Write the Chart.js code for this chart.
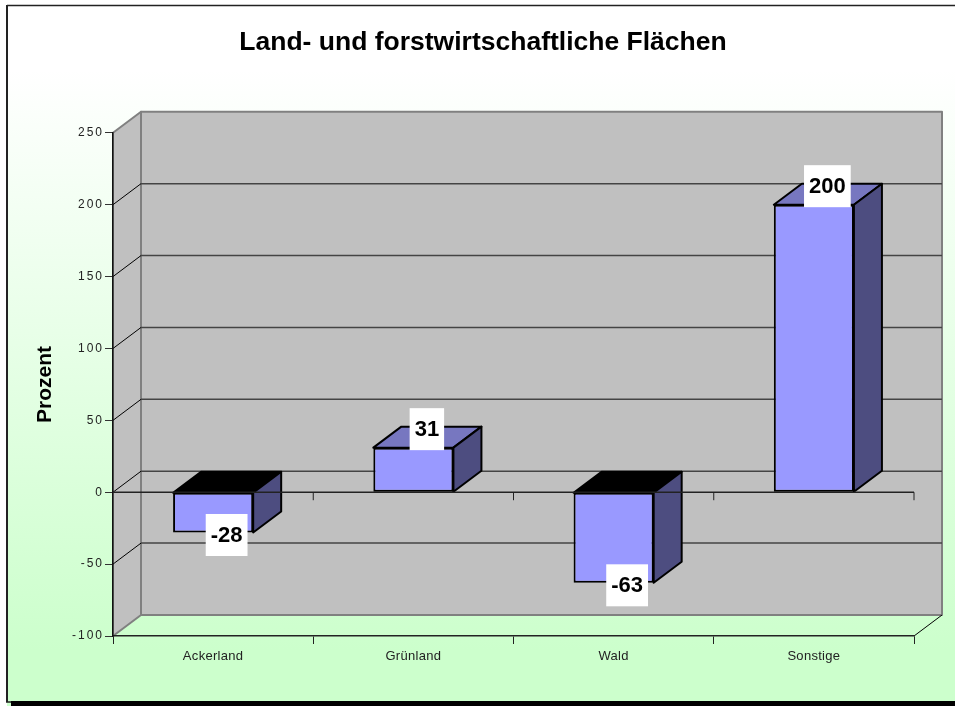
<!DOCTYPE html>
<html>
<head>
<meta charset="utf-8">
<title>Land- und forstwirtschaftliche Flächen</title>
<script src="https://cdn.jsdelivr.net/npm/chart.js@4"></script>
<style>
    html, body { margin: 0; padding: 0; background: #fff; }
    canvas { display: block; }
</style>
</head>
<body>
<canvas id="myChart" width="955" height="706"></canvas>
<script>
const chartTitle = 'Land- und forstwirtschaftliche Flächen';
const yTitle = 'Prozent';
const categories = ['Ackerland', 'Grünland', 'Wald', 'Sonstige'];
const values = [-28, 31, -63, 200];
const yMin = -100;
const yMax = 250;
const yStep = 50;

// the depth of the fake 3d box, in pixels
const depthX = 28;
const depthY = 21;
const fontName = '"Liberation Sans", Arial, sans-serif';

const poly = (ctx, pts, fill, stroke, lw) => {
    ctx.beginPath();
    pts.forEach((p, i) => i ? ctx.lineTo(p[0], p[1]) : ctx.moveTo(p[0], p[1]));
    ctx.closePath();
    if (fill) { ctx.fillStyle = fill; ctx.fill(); }
    if (stroke) { ctx.strokeStyle = stroke; ctx.lineWidth = lw; ctx.lineJoin = 'round'; ctx.stroke(); }
};

const line = (ctx, x1, y1, x2, y2, color, lw) => {
    ctx.beginPath();
    ctx.moveTo(x1, y1);
    ctx.lineTo(x2, y2);
    ctx.strokeStyle = color;
    ctx.lineWidth = lw;
    ctx.stroke();
};

const box3d = {
    id: 'box3d',
    afterLayout(chart) {
        // tick labels are spaced out in the original
        ['x', 'y'].forEach(id => {
            const scale = chart.scales[id];
            if (scale.spaced) return;
            scale.spaced = true;
            const drawLabels = scale.drawLabels;
            scale.drawLabels = function (area) {
                chart.ctx.letterSpacing = id === 'y' ? '2px' : '0.3px';
                drawLabels.call(this, area);
                chart.ctx.letterSpacing = '0px';
            };
        });
    },
    beforeDraw(chart) {
        const ctx = chart.ctx;
        const { left, right, top, bottom } = chart.chartArea;
        const y = chart.scales.y;
        const W = chart.width, H = chart.height;

        // page background and frame
        ctx.save();
        const bg = ctx.createLinearGradient(0, 70, 0, 650);
        bg.addColorStop(0, '#ffffff');
        bg.addColorStop(1, '#ccffcc');
        ctx.fillStyle = bg;
        ctx.fillRect(7, 6, W - 7, H - 6);
        line(ctx, 7, 5.5, W, 5.5, '#222', 1.5);
        line(ctx, 7, 5, 7, 702, '#222', 2);
        line(ctx, 6, 702, 12, 702, '#222', 1.5);
        ctx.fillStyle = '#000';
        ctx.fillRect(11, 701, W - 11, H - 701);

        // side wall and back wall
        poly(ctx, [[left, top], [left + depthX, top - depthY], [left + depthX, bottom - depthY], [left, bottom]], '#c0c0c0', '#808080', 2);
        poly(ctx, [[left + depthX, top - depthY], [right + depthX, top - depthY], [right + depthX, bottom - depthY], [left + depthX, bottom - depthY]], '#c0c0c0', '#808080', 2);

        y.ticks.forEach(t => {
            const py = y.getPixelForValue(t.value);
            if (t.value !== yMin && t.value !== yMax) {
                line(ctx, left, py, left + depthX, py - depthY, '#000', 1);
                line(ctx, left + depthX, py - depthY, right + depthX, py - depthY, '#444', 1.5);
            }
        });
        line(ctx, right, bottom, right + depthX, bottom - depthY, '#000', 1);
        ctx.restore();
    },
    beforeDatasetsDraw(chart) {
        const ctx = chart.ctx;
        const { left, right } = chart.chartArea;
        const x = chart.scales.x;
        const zero = chart.scales.y.getPixelForValue(0);
        ctx.save();

        chart.getDatasetMeta(0).data.forEach((bar, i) => {
            const l = bar.x - bar.width / 2, r = bar.x + bar.width / 2;
            const t = Math.min(bar.y, bar.base), b = Math.max(bar.y, bar.base);
            poly(ctx, [[l, t], [l + depthX, t - depthY], [r + depthX, t - depthY], [r, t]], values[i] < 0 ? '#000000' : '#7777c0', '#000', 2);
            poly(ctx, [[r, t], [r + depthX, t - depthY], [r + depthX, b - depthY], [r, b]], '#4d4d80', '#000', 2);
        });

        // zero line with its ticks
        line(ctx, left, zero, right, zero, '#222', 1.5);
        categories.forEach((c, i) => {
            const px = x.getPixelForValue(i + 0.5);
            line(ctx, px, zero, px, zero + 8, '#222', 1);
        });
        ctx.restore();
    },
    afterDatasetsDraw(chart) {
        const ctx = chart.ctx;
        ctx.save();
        ctx.font = 'bold 22px ' + fontName;
        ctx.textAlign = 'center';
        ctx.textBaseline = 'middle';
        chart.getDatasetMeta(0).data.forEach((bar, i) => {
            const label = String(values[i]);
            const w = ctx.measureText(label).width + 10;
            const cx = bar.x + depthX / 2 - 0.5;
            const cy = bar.y + (values[i] < 0 ? 2.5 : -18.5);
            ctx.fillStyle = '#fff';
            ctx.fillRect(cx - w / 2, cy - 21, w, 42);
            ctx.fillStyle = '#000';
            ctx.fillText(label, cx, cy + 1);
        });
        ctx.restore();
    }
};

new Chart(document.getElementById('myChart').getContext('2d'), {
    type: 'bar',
    data: {
        labels: categories,
        datasets: [{
            data: values,
            backgroundColor: '#9999ff',
            borderColor: '#000',
            borderWidth: 2,
            borderSkipped: false,
            barPercentage: 0.4,
            categoryPercentage: 1
        }]
    },
    plugins: [box3d],
    options: {
        responsive: false,
        animation: false,
        layout: { padding: { left: 11, right: 0, top: 0, bottom: 0 } },
        plugins: {
            legend: { display: false },
            tooltip: { enabled: false },
            title: {
                display: true,
                text: chartTitle,
                color: '#000',
                font: { family: fontName, size: 26.5, weight: 'bold', lineHeight: 1.2 },
                padding: { top: 27, bottom: 74 }
            }
        },
        scales: {
            x: {
                offset: true,
                grid: { offset: true, drawOnChartArea: false, tickLength: 8, color: '#222', lineWidth: 1 },
                border: { color: '#222', width: 1.5 },
                ticks: { color: '#222', font: { family: fontName, size: 13 }, padding: 5, maxRotation: 0, autoSkip: false },
                afterFit: s => { s.height = 70; }
            },
            y: {
                min: yMin,
                max: yMax,
                grid: { drawOnChartArea: false, tickLength: 8, color: '#333', lineWidth: 1 },
                border: { color: '#111', width: 1.5 },
                ticks: { stepSize: yStep, color: '#222', font: { family: fontName, size: 12 }, padding: 1 },
                title: {
                    display: true,
                    text: yTitle,
                    color: '#000',
                    font: { family: fontName, size: 21, weight: 'bold' },
                    padding: { top: 22, bottom: 0 }
                },
                afterFit: s => { s.width = 102; }
            },
            // empty axis, keeps the plot away from the right edge
            spare: {
                position: 'right',
                grid: { display: false },
                border: { display: false },
                ticks: { display: false },
                afterFit: s => { s.width = 41; }
            }
        }
    }
});
</script>
</body>
</html>
